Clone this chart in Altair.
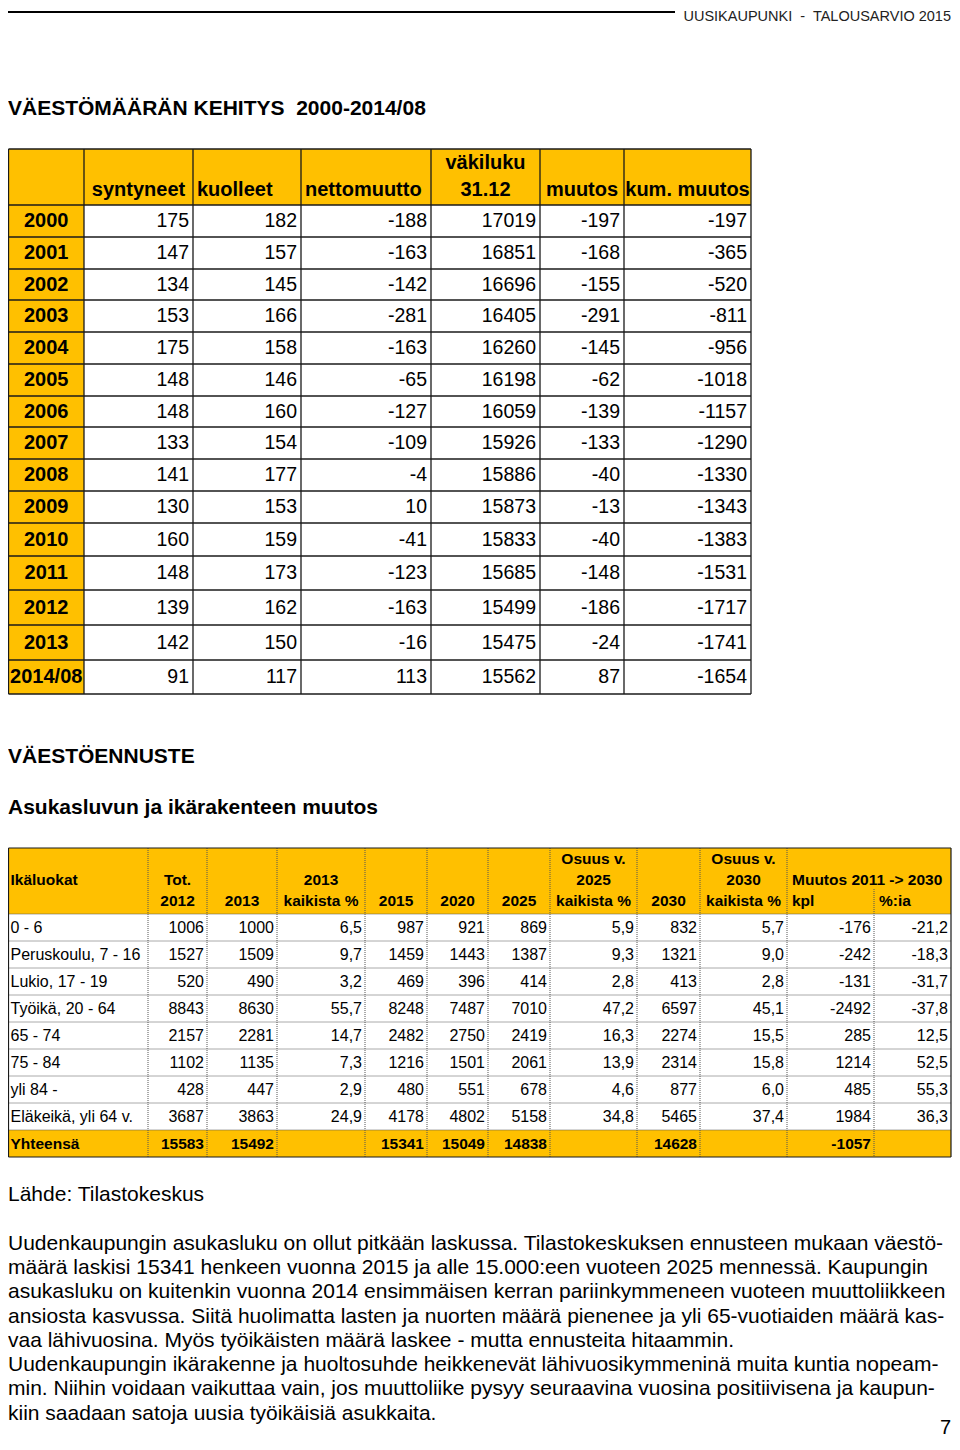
import altair as alt
import pandas as pd

# ------------------------------------------------------------------ data
# Table 1: VÄESTÖMÄÄRÄN KEHITYS 2000-2014/08
years = ["2000", "2001", "2002", "2003", "2004", "2005", "2006", "2007",
         "2008", "2009", "2010", "2011", "2012", "2013", "2014/08"]
syntyneet = [175, 147, 134, 153, 175, 148, 148, 133, 141, 130, 160, 148, 139, 142, 91]
kuolleet = [182, 157, 145, 166, 158, 146, 160, 154, 177, 153, 159, 173, 162, 150, 117]
nettomuutto = [-188, -163, -142, -281, -163, -65, -127, -109, -4, 10, -41, -123, -163, -16, 113]
vakiluku = [17019, 16851, 16696, 16405, 16260, 16198, 16059, 15926, 15886, 15873,
            15833, 15685, 15499, 15475, 15562]
muutos = [-197, -168, -155, -291, -145, -62, -139, -133, -40, -13, -40, -148, -186, -24, 87]
kum_muutos = [-197, -365, -520, -811, -956, -1018, -1157, -1290, -1330, -1343,
              -1383, -1531, -1717, -1741, -1654]
t1_head_top = ["", "", "", "", "väkiluku", "", ""]
t1_head_bottom = ["", "syntyneet", "kuolleet", "nettomuutto", "31.12", "muutos", "kum. muutos"]

# Table 2: Asukasluvun ja ikärakenteen muutos
ikaluokat = ["0 - 6", "Peruskoulu, 7 - 16", "Lukio, 17 - 19", "Työikä, 20 - 64",
             "65 - 74", "75 - 84", "yli 84 -", "Eläkeikä, yli 64 v.", "Yhteensä"]
tot2012 = [1006, 1527, 520, 8843, 2157, 1102, 428, 3687, 15583]
v2013 = [1000, 1509, 490, 8630, 2281, 1135, 447, 3863, 15492]
osuus2013 = [6.5, 9.7, 3.2, 55.7, 14.7, 7.3, 2.9, 24.9, None]
v2015 = [987, 1459, 469, 8248, 2482, 1216, 480, 4178, 15341]
v2020 = [921, 1443, 396, 7487, 2750, 1501, 551, 4802, 15049]
v2025 = [869, 1387, 414, 7010, 2419, 2061, 678, 5158, 14838]
osuus2025 = [5.9, 9.3, 2.8, 47.2, 16.3, 13.9, 4.6, 34.8, None]
v2030 = [832, 1321, 413, 6597, 2274, 2314, 877, 5465, 14628]
osuus2030 = [5.7, 9.0, 2.8, 45.1, 15.5, 15.8, 6.0, 37.4, None]
muutos_kpl = [-176, -242, -131, -2492, 285, 1214, 485, 1984, -1057]
muutos_pct = [-21.2, -18.3, -31.7, -37.8, 12.5, 52.5, 55.3, 36.3, None]
t2_head_l1 = ["", "", "", "", "", "", "", "Osuus v.", "", "Osuus v.", "", ""]
t2_head_l2 = ["Ikäluokat", "Tot.", "", "2013", "", "", "", "2025", "", "2030", "", ""]
t2_head_l3 = ["", "2012", "2013", "kaikista %", "2015", "2020", "2025", "kaikista %",
              "2030", "kaikista %", "kpl", "%:ia"]
t2_span_header = "Muutos 2011 -> 2030"

NBSP = "\u00a0"
header_right = f"UUSIKAUPUNKI{NBSP} -{NBSP} TALOUSARVIO 2015"
title1 = f"VÄESTÖMÄÄRÄN KEHITYS{NBSP} 2000-2014/08"
title2 = "VÄESTÖENNUSTE"
subtitle2 = "Asukasluvun ja ikärakenteen muutos"
source = "Lähde: Tilastokeskus"
paragraph = [
    "Uudenkaupungin asukasluku on ollut pitkään laskussa. Tilastokeskuksen ennusteen mukaan väestö-",
    "määrä laskisi 15341 henkeen vuonna 2015 ja alle 15.000:een vuoteen 2025 mennessä. Kaupungin",
    "asukasluku on kuitenkin vuonna 2014 ensimmäisen kerran pariinkymmeneen vuoteen muuttoliikkeen",
    "ansiosta kasvussa. Siitä huolimatta lasten ja nuorten määrä pienenee ja yli 65-vuotiaiden määrä kas-",
    "vaa lähivuosina. Myös työikäisten määrä laskee - mutta ennusteita hitaammin.",
    "Uudenkaupungin ikärakenne ja huoltosuhde heikkenevät lähivuosikymmeninä muita kuntia nopeam-",
    "min. Niihin voidaan vaikuttaa vain, jos muuttoliike pysyy seuraavina vuosina positiivisena ja kaupun-",
    "kiin saadaan satoja uusia työikäisiä asukkaita.",
]
page_no = "7"

# ------------------------------------------------------------------ layout
# page coordinates; the drawable page area is x 8..952, y 8..1442
W, H = 944, 1434
RIGHT = 951
T1X = [8.5, 84, 193, 301, 431, 540, 624, 751]
T1Y = [149, 205, 237, 269, 300, 332, 364, 396, 427, 459, 491, 523, 556, 590, 625, 660, 694]
T2X = [8.5, 148, 207, 277, 365, 427, 488, 550, 637, 700, 787, 874, RIGHT]
T2Y = [848, 914] + [914 + 27 * i for i in range(1, 10)]
YELLOW = "#FFC000"
FONT = "Liberation Sans"
T2_SIZE = 16

xs = alt.Scale(domain=[8, 8 + W], zero=False, nice=False)
ys = alt.Scale(domain=[8, 8 + H], zero=False, nice=False, reverse=True)


def fmt_dec(v):
    return "" if v is None else f"{v:.1f}".replace(".", ",")


def text_layer(rows, size, weight="normal", align="left", font=FONT, color="black"):
    df = pd.DataFrame(rows, columns=["x", "y", "t"])
    return alt.Chart(df).mark_text(
        fontSize=size, fontWeight=weight, align=align, baseline="middle",
        font=font, color=color,
    ).encode(
        x=alt.X("x:Q", scale=xs, axis=None),
        y=alt.Y("y:Q", scale=ys, axis=None),
        text="t:N",
    )


def rect_layer(rows, color):
    df = pd.DataFrame(rows, columns=["x", "x2", "y", "y2"])
    return alt.Chart(df).mark_rect(color=color).encode(
        x=alt.X("x:Q", scale=xs, axis=None), x2="x2:Q",
        y=alt.Y("y:Q", scale=ys, axis=None), y2="y2:Q",
    )


def rule_layer(rows, color="#111111", width=1.0, dash=None):
    df = pd.DataFrame(rows, columns=["x", "x2", "y", "y2"])
    kw = dict(color=color, strokeWidth=width)
    if dash:
        kw["strokeDash"] = dash
    return alt.Chart(df).mark_rule(**kw).encode(
        x=alt.X("x:Q", scale=xs, axis=None), x2="x2:Q",
        y=alt.Y("y:Q", scale=ys, axis=None), y2="y2:Q",
    )


layers = []

# ---- fills
layers.append(rect_layer([
    (T1X[0], T1X[-1], T1Y[0], T1Y[1]),
    (T1X[0], T1X[1], T1Y[1], T1Y[-1]),
    (T2X[0], T2X[-1], T2Y[0], T2Y[1]),
    (T2X[0], T2X[-1], T2Y[-2], T2Y[-1]),
], YELLOW))

# ---- page header line
layers.append(rule_layer([(8, 675, 12, 12)], color="black", width=2))

# ---- table 1 grid (solid)
t1_rules = [(x, x, T1Y[0], T1Y[-1]) for x in T1X] + [(T1X[0], T1X[-1], y, y) for y in T1Y]
layers.append(rule_layer(t1_rules, color="#1a1a1a", width=1.3))

# ---- table 2 grid
t2_dotted = []
for x in T2X[1:-1]:
    top = 889 if x == 874 else T2Y[0]
    t2_dotted.append((x, x, top, T2Y[-1]))
for y in T2Y[1:-1]:
    t2_dotted.append((T2X[0], T2X[-1], y, y))
layers.append(rule_layer(t2_dotted, color="#555555", width=1.0, dash=[1, 1]))
t2_outer = [(T2X[0], T2X[0], T2Y[0], T2Y[-1]), (T2X[-1], T2X[-1], T2Y[0], T2Y[-1]),
            (T2X[0], T2X[-1], T2Y[0], T2Y[0]), (T2X[0], T2X[-1], T2Y[-1], T2Y[-1])]
layers.append(rule_layer(t2_outer, color="#1a1a1a", width=1.2))

# ---- page texts
layers.append(text_layer([(RIGHT, 17, header_right)], 14.5, align="right", color="#222222"))
layers.append(text_layer([(8, 109, title1)], 21, weight="bold"))
layers.append(text_layer([(8, 757, title2), (8, 808, subtitle2)], 21, weight="bold"))
layers.append(text_layer([(8, 1195, source)], 21))
para_y = [1244, 1268, 1292, 1317, 1341, 1365, 1389, 1414]
layers.append(text_layer([(8, y, s) for y, s in zip(para_y, paragraph)], 21))
layers.append(text_layer([(RIGHT, 1428, page_no)], 20, align="right"))

# ---- table 1 texts
t1_centers = [(T1X[i] + T1X[i + 1]) / 2 for i in range(7)]
head_center, head_left = [], []
for i in range(7):
    if t1_head_top[i]:
        head_center.append((t1_centers[i], 163, t1_head_top[i]))
    if t1_head_bottom[i]:
        if t1_head_bottom[i] in ("kuolleet", "nettomuutto"):
            head_left.append((T1X[i] + 4, 190, t1_head_bottom[i]))
        else:
            head_center.append((t1_centers[i], 190, t1_head_bottom[i]))
layers.append(text_layer(head_center, 20, weight="bold", align="center"))
layers.append(text_layer(head_left, 20, weight="bold", align="left"))

row_mid1 = [(T1Y[i] + T1Y[i + 1]) / 2 for i in range(1, len(T1Y) - 1)]
layers.append(text_layer([(t1_centers[0], y, s) for y, s in zip(row_mid1, years)],
                         20, weight="bold", align="center"))
t1_cols = [syntyneet, kuolleet, nettomuutto, vakiluku, muutos, kum_muutos]
t1_num = []
for ci, col in enumerate(t1_cols):
    for y, v in zip(row_mid1, col):
        t1_num.append((T1X[ci + 2] - 4, y, str(v)))
layers.append(text_layer(t1_num, 19.5, align="right"))

# ---- table 2 texts
t2_centers = [(T2X[i] + T2X[i + 1]) / 2 for i in range(12)]
h_center, h_left = [], []
for i in range(12):
    for yy, lab in ((859, t2_head_l1[i]), (880, t2_head_l2[i]), (901, t2_head_l3[i])):
        if not lab:
            continue
        if i == 0:
            h_left.append((T2X[0] + 2, yy, lab))
        elif i >= 10:
            h_left.append((T2X[i] + 5, yy, lab))
        else:
            h_center.append((t2_centers[i], yy, lab))
h_left.append((T2X[10] + 5, 880, t2_span_header))
layers.append(text_layer(h_center, 15.5, weight="bold", align="center"))
layers.append(text_layer(h_left, 15.5, weight="bold", align="left"))

row_mid2 = [(T2Y[i] + T2Y[i + 1]) / 2 for i in range(1, len(T2Y) - 1)]
t2_cols = [
    [str(v) for v in tot2012], [str(v) for v in v2013], [fmt_dec(v) for v in osuus2013],
    [str(v) for v in v2015], [str(v) for v in v2020], [str(v) for v in v2025],
    [fmt_dec(v) for v in osuus2025], [str(v) for v in v2030], [fmt_dec(v) for v in osuus2030],
    [str(v) for v in muutos_kpl], [fmt_dec(v) for v in muutos_pct],
]
n_rows = len(ikaluokat)
body_lab, body_num, tot_lab, tot_num = [], [], [], []
for r in range(n_rows):
    is_total = r == n_rows - 1
    (tot_lab if is_total else body_lab).append((T2X[0] + 2, row_mid2[r], ikaluokat[r]))
    for ci, col in enumerate(t2_cols):
        if col[r]:
            (tot_num if is_total else body_num).append((T2X[ci + 2] - 3, row_mid2[r], col[r]))
layers.append(text_layer(body_lab, T2_SIZE, align="left"))
layers.append(text_layer(body_num, T2_SIZE, align="right"))
layers.append(text_layer(tot_lab, 15.5, weight="bold", align="left"))
layers.append(text_layer(tot_num, 15.5, weight="bold", align="right"))

chart = alt.layer(*layers).properties(
    width=W, height=H, padding=0,
    autosize=alt.AutoSizeParams(type="none"),
).configure_view(stroke=None)

chart.save("out.html", embed_options={"renderer": "svg", "actions": False})
